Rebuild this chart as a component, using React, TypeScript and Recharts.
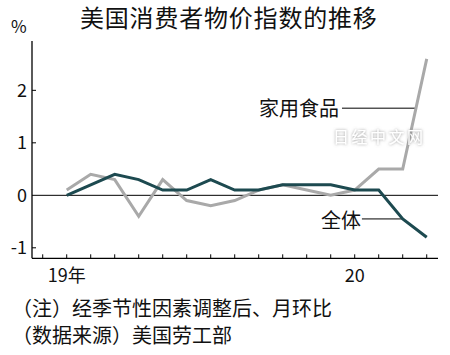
import React from "react";
import { LineChart, Line, XAxis, YAxis, ReferenceLine } from "recharts";

// monthly CPI change, Jan 2019 - Apr 2020
const months = ["2019-01", "2019-02", "2019-03", "2019-04", "2019-05", "2019-06", "2019-07", "2019-08",
  "2019-09", "2019-10", "2019-11", "2019-12", "2020-01", "2020-02", "2020-03", "2020-04"];
const foodAtHome = [0.1, 0.4, 0.3, -0.4, 0.3, -0.1, -0.2, -0.1, 0.1, 0.2, 0.1, 0.0, 0.1, 0.5, 0.5, 2.6];
const allItems = [0.0, 0.2, 0.4, 0.3, 0.1, 0.1, 0.3, 0.1, 0.1, 0.2, 0.2, 0.2, 0.1, 0.1, -0.45, -0.8];

const xTicks = [-1, 0, 1, 2, 3, 4, 5, 6, 7, 8, 9, 10, 11, 12, 13, 14, 15];
const xLabels: Record<number, string> = { 0: "19年", 12: "20" };
const yTicks = [-1, 0, 1, 2];

const data = months.map((m, i) => ({ i, month: m, food: foodAtHome[i], total: allItems[i] }));

const FONT = '"Noto Sans CJK SC", "Noto Sans", sans-serif';
const GRAY = "#a9a9a9";
const TEAL = "#1d4a50";

function XTick(props: any) {
  const { x, y, payload } = props;
  const label = xLabels[payload.value];
  return (
    <g>
      <line x1={x} x2={x} y1={y} y2={y - 4} stroke="#000" strokeWidth={1} />
      {label && (
        <text x={x} y={y + 23.5} textAnchor="middle" fontSize={18} fontFamily={FONT} fill="#111">
          {label}
        </text>
      )}
    </g>
  );
}

function YTick(props: any) {
  const { x, y, payload } = props;
  return (
    <g>
      {payload.value !== 0 && <line x1={x} x2={x + 4} y1={y} y2={y} stroke="#000" strokeWidth={1} />}
      <text x={x - 5} y={y + 6.5} textAnchor="end" fontSize={18} fontFamily={FONT} fill="#111">
        {String(payload.value)}
      </text>
    </g>
  );
}

export default function App() {
  return (
    <div style={{ position: "absolute", left: 0, top: 0, width: 450, height: 355, background: "#fff" }}>
      <LineChart width={450} height={355} data={data} margin={{ top: 41, right: 12, bottom: 66.7, left: 0 }}>
        <XAxis
          type="number"
          dataKey="i"
          height={30}
          domain={[-1.446, 15.47]}
          ticks={xTicks}
          interval={0}
          allowDataOverflow
          tick={<XTick />}
          tickLine={false}
          tickSize={0}
          tickMargin={0}
          axisLine={{ stroke: "#000", strokeWidth: 1.3 }}
        />
        <YAxis
          width={32}
          domain={[-1.2, 2.94]}
          ticks={yTicks}
          interval={0}
          allowDataOverflow
          tick={<YTick />}
          tickLine={false}
          tickSize={0}
          tickMargin={0}
          axisLine={{ stroke: "#000", strokeWidth: 1.3 }}
        />
        <ReferenceLine y={0} stroke="#000" strokeWidth={1} />
        <ReferenceLine segment={[{ x: 11.47, y: 1.66 }, { x: 14.53, y: 1.66 }]} stroke="#000" strokeWidth={1} />
        <ReferenceLine segment={[{ x: 12.3, y: -0.45 }, { x: 14, y: -0.45 }]} stroke="#000" strokeWidth={1} />
        <Line type="linear" dataKey="food" stroke={GRAY} strokeWidth={3} dot={false} isAnimationActive={false} />
        <Line type="linear" dataKey="total" stroke={TEAL} strokeWidth={3} dot={false} isAnimationActive={false} />
      </LineChart>
      <svg width={450} height={355} style={{ position: "absolute", left: 0, top: 0, pointerEvents: "none" }}>
        <defs>
          <filter id="wm" x="-10%" y="-50%" width="120%" height="200%">
            <feDropShadow dx="0" dy="0" stdDeviation="1.6" floodColor="#8a8a8a" floodOpacity="0.9" />
          </filter>
        </defs>
        <text x={80} y={27} fontSize={24} fontFamily={FONT} fill="#111" letterSpacing={0.8}>美国消费者物价指数的推移</text>
        <text x={11} y={33} fontSize={17} fontFamily={FONT} fill="#111">%</text>
        <text x={259} y={115.5} fontSize={20} fontFamily={FONT} fill="#111">家用食品</text>
        <text x={321} y={227.5} fontSize={20} fontFamily={FONT} fill="#111">全体</text>
        <text x={333} y={143} fontSize={16} fontFamily={FONT} fill="#fff" letterSpacing={2.5} filter="url(#wm)">
          日经中文网
        </text>
        <text x={12} y={316} fontSize={20} fontFamily={FONT} fill="#111">（注）经季节性因素调整后、月环比</text>
        <text x={12} y={343} fontSize={20} fontFamily={FONT} fill="#111">（数据来源）美国劳工部</text>
      </svg>
    </div>
  );
}
